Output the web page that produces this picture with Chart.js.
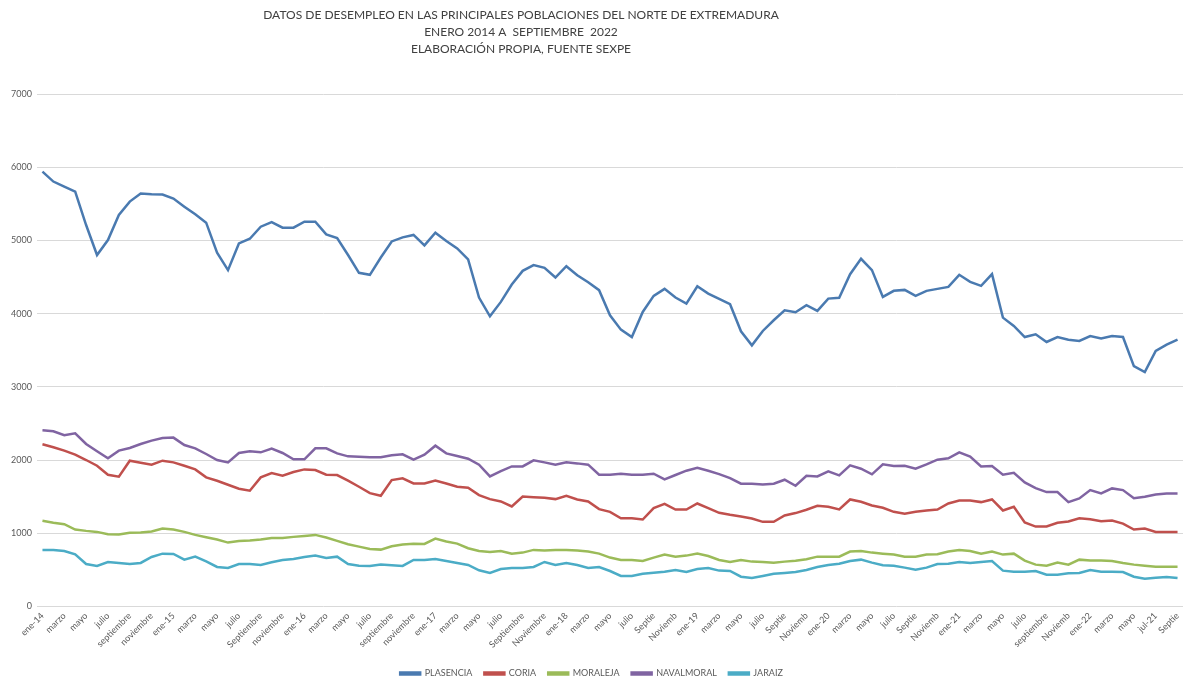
<!DOCTYPE html>
<html>
<head>
<meta charset="utf-8">
<script src="https://cdn.jsdelivr.net/npm/chart.js@4"></script>
<style>
html,body{margin:0;padding:0;background:#fff;}
#wrap{position:relative;width:1203px;height:694px;}
</style>
</head>
<body>
<div id="wrap"><canvas id="c" width="1203" height="694"></canvas></div>
<script>
const labels = [
 "ene-14","febrero","marzo","abril","mayo","junio","julio","agosto","septiembre","octubre","noviembre","diciembre",
 "ene-15","febrero","marzo","abril","mayo","junio","julio","agosto","Septiembre","octubre","noviembre","diciembre",
 "ene-16","febrero","marzo","abril","mayo","junio","julio","agosto","septiembre","octubre","noviembre","diciembre",
 "ene-17","febrero","marzo","abril","mayo","junio","julio","agosto","Septiembre","octubre","Noviembre","diciembre",
 "ene-18","febrero","marzo","abril","mayo","junio","julio","agosto","Septie","octubre","Noviemb","diciembre",
 "ene-19","febrero","marzo","abril","mayo","junio","julio","agosto","Septie","octubre","Noviemb","diciembre",
 "ene-20","febrero","marzo","abril","mayo","junio","julio","agosto","Septie","octubre","Noviemb","diciembre",
 "ene-21","febrero","marzo","abril","mayo","junio","julio","agosto","septiembre","octubre","Noviemb","diciembre",
 "ene-22","febrero","marzo","abril","mayo","junio","jul-21","agosto","Septie"
];

const plasencia = [5940,5804,5735,5667,5210,4800,5005,5347,5530,5640,5630,5626,5571,5461,5356,5242,4831,4594,4959,5023,5187,5251,5174,5174,5256,5256,5082,5032,4800,4557,4530,4767,4986,5041,5075,
 4932,5105,4991,4890,4740,4219,3963,4160,4397,4584,4662,4626,4493,4648,4525,4429,4320,3977,3781,3680,4023,4242,4338,4219,4137,4374,4274,4201,4128,3758,3566,3763,3909,4046,
 4018,4114,4037,4205,4215,4539,4749,4594,4228,4311,4324,4242,4311,4338,4365,4530,4434,4379,4539,3945,3831,3680,3717,3612,3680,3644,3626,3694,3662,3694,3680,3283,3201,3489,3575,3644];

const coria = [2215,2174,2128,2073,2000,1922,1799,1772,1991,1963,1936,1991,1968,1922,1872,1763,1717,1662,1607,1580,1763,1822,1785,1836,1872,1863,1799,1795,1717,1635,1548,1511,1726,1749,1680,
 1680,1721,1680,1635,1621,1521,1466,1434,1365,1502,1493,1484,1466,1511,1461,1434,1329,1292,1205,1205,1187,1342,1402,1324,1324,1406,1342,1279,1251,1228,1201,1155,1155,1242,
 1275,1320,1374,1361,1324,1461,1429,1379,1347,1292,1265,1292,1311,1324,1406,1447,1447,1425,1461,1311,1361,1146,1091,1091,1142,1160,1205,1192,1164,1174,1132,1050,1064,1018,1018,1018];

const moraleja = [1169,1142,1123,1050,1032,1018,986,982,1005,1009,1023,1064,1050,1018,977,945,913,872,895,900,913,936,936,950,963,977,941,895,849,817,785,776,822,845,856,
 854,927,886,858,795,758,744,758,721,735,772,763,772,772,763,749,721,667,635,635,621,667,708,680,694,721,689,635,607,635,612,607,598,612,
 623,644,680,680,680,749,758,735,721,708,680,680,708,712,749,772,758,721,749,708,721,626,571,557,598,571,639,626,626,621,594,571,557,543,543,543];

const navalmoral = [2406,2393,2338,2365,2219,2119,2023,2128,2164,2219,2265,2301,2306,2205,2160,2082,2000,1968,2096,2119,2105,2155,2096,2009,2009,2160,2160,2091,2050,2046,2037,2037,2064,2078,2005,
 2073,2196,2091,2055,2018,1936,1776,1849,1913,1913,1995,1968,1936,1968,1954,1936,1799,1799,1813,1799,1799,1813,1735,1795,1854,1895,1854,1808,1753,1676,1676,1667,1676,1731,
 1648,1785,1776,1845,1790,1927,1881,1804,1941,1918,1922,1881,1941,2005,2023,2105,2046,1913,1918,1799,1826,1694,1616,1562,1562,1425,1475,1589,1543,1612,1589,1479,1498,1530,1543,1543];

const jaraiz = [772,772,758,712,580,553,607,594,580,594,676,721,717,639,680,616,539,525,580,580,566,603,635,648,676,694,662,680,580,557,553,571,562,553,635,
 635,648,621,594,566,493,457,511,525,525,539,607,566,594,566,525,539,484,416,416,447,461,475,498,470,511,525,489,484,406,388,416,447,457,
 470,498,539,566,584,621,639,598,562,557,530,502,530,580,584,607,594,607,621,489,475,475,484,434,434,452,457,498,475,475,470,406,379,393,402,388];

const seriesNames = ["PLASENCIA","CORIA","MORALEJA","NAVALMORAL","JARAIZ"];
const seriesColors = ["#4a7ab0","#c0504d","#9bbb59","#8064a2","#4bacc6"];
const titleLines = [
 "DATOS DE DESEMPLEO EN LAS PRINCIPALES POBLACIONES DEL NORTE DE EXTREMADURA",
 "ENERO 2014 A  SEPTIEMBRE  2022",
 "ELABORACIÓN PROPIA, FUENTE SEXPE"
];

const FONT = "Lato, 'Open Sans', sans-serif";
const TXT = "#595959";

const titlePlugin = {
  id: 'titleLines',
  afterDraw(chart) {
    const ctx = chart.ctx;
    ctx.save();
    ctx.fillStyle = "#404040";
    ctx.font = "12px " + FONT;
    ctx.textAlign = "center";
    ctx.textBaseline = "middle";
    titleLines.forEach((t, i) => ctx.fillText(t, 521, 15 + i * 17));
    ctx.restore();
  }
};
const bgPlugin = {
  id: 'bg',
  beforeDraw(chart) {
    const ctx = chart.ctx;
    ctx.save();
    ctx.fillStyle = "#fff";
    ctx.fillRect(0, 0, chart.width, chart.height);
    ctx.restore();
  }
};

const datasets = [plasencia, coria, moraleja, navalmoral, jaraiz].map((d, i) => ({
  label: seriesNames[i],
  data: d,
  borderColor: seriesColors[i],
  backgroundColor: seriesColors[i],
  borderWidth: 2.5,
  pointRadius: 0,
  tension: 0,
  fill: false
}));

new Chart(document.getElementById('c'), {
  type: 'line',
  data: { labels: labels, datasets: datasets },
  plugins: [bgPlugin, titlePlugin],
  options: {
    responsive: false,
    animation: false,
    devicePixelRatio: 1,
    layout: { padding: { top: 94, right: 20, bottom: 6, left: 0 } },
    plugins: {
      legend: {
        position: 'bottom',
        labels: {
          boxWidth: 20,
          boxHeight: 2,
          padding: 12,
          color: TXT,
          font: { size: 9, family: FONT }
        }
      },
      title: { display: false },
      tooltip: { enabled: false }
    },
    scales: {
      x: {
        offset: true,
        grid: { display: false, drawTicks: false },
        border: { display: false },
        afterFit: function(s) { s.height += 3; },
        ticks: {
          autoSkip: false,
          maxRotation: 45,
          minRotation: 45,
          padding: 4,
          color: TXT,
          font: { size: 9, family: FONT },
          callback: function(v, i) { return i % 2 === 0 ? labels[i] : ''; }
        }
      },
      y: {
        min: 0,
        max: 7000,
        grid: { color: "#d9d9d9", lineWidth: 1, drawTicks: false },
        border: { display: false },
        afterFit: function(s) { s.width = 37; },
        ticks: {
          stepSize: 1000,
          padding: 5,
          color: TXT,
          font: { size: 9, family: FONT },
          callback: function(v) { return String(v); }
        }
      }
    }
  }
});
</script>
</body>
</html>
